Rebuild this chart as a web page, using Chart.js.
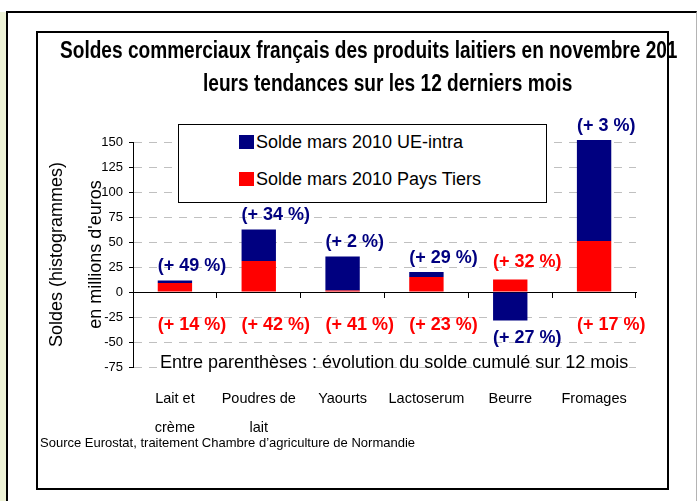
<!DOCTYPE html>
<html lang="fr">
<head>
<meta charset="utf-8">
<title>Soldes commerciaux français des produits laitiers</title>
<script src="https://cdn.jsdelivr.net/npm/chart.js@4.4.1/dist/chart.umd.min.js"></script>
<style>
  html, body { margin: 0; padding: 0; background: #fff; }
  #stage { position: relative; width: 697px; height: 501px; overflow: hidden; font-family: 'Liberation Sans', Arial, sans-serif; color: #000; }
  #stage > * { position: absolute; }
  .strip { left: 0; top: 12px; width: 6px; height: 489px; background: #eef3d6; }
  .outer { left: 6px; top: 11px; width: 691px; height: 500px; box-sizing: border-box; border-left: 2px solid #000; border-top: 2px solid #000; border-right: 1px solid #b4b4b4; }
  .inner { left: 36px; top: 31px; width: 633px; height: 459px; box-sizing: border-box; border: 2px solid #000; z-index: 5; }
  #chart { left: 0; top: 0; }
  .titre { white-space: nowrap; font-weight: bold; font-size: 23px; line-height: 26px; transform: scaleX(0.83); transform-origin: left center; z-index: 2; }
  .t1 { left: 60px; top: 37px; }
  .t2 { left: 203px; top: 70px; }
  #legende { left: 178px; top: 124px; width: 369px; height: 79px; box-sizing: border-box; border: 1px solid #000; background: #fff; z-index: 2; }
  .item { position: absolute; left: 60px; white-space: nowrap; font-size: 18px; line-height: 20px; }
  .item span { display: inline-block; width: 15px; height: 14px; margin-right: 2px; vertical-align: -1px; }
  .note { left: 160px; top: 351px; white-space: nowrap; font-size: 18px; line-height: 22px; z-index: 2; }
  .source { left: 40px; top: 435px; white-space: nowrap; font-size: 13px; line-height: 16px; z-index: 2; }
</style>
</head>
<body>
<div id="stage">
  <div class="strip"></div>
  <div class="outer"></div>
  <canvas id="chart" width="697" height="501"></canvas>
  <div class="titre t1">Soldes commerciaux français des produits laitiers en novembre 201</div>
  <div class="titre t2">leurs tendances sur les 12 derniers mois</div>
  <div id="legende"></div>
  <div class="note">Entre parenthèses : évolution du solde cumulé sur 12 mois</div>
  <div class="source">Source Eurostat, traitement Chambre d’agriculture de Normandie</div>
  <div class="inner"></div>
</div>
<script>
// Données (millions d'euros)
const categories = [['Lait et', 'crème'], ['Poudres de', 'lait'], 'Yaourts', 'Lactoserum', 'Beurre', 'Fromages'];
const soldeUeIntra = [2.5, 31.5, 34, 5, -28.5, 101];
const soldePaysTiers = [9, 31, 1.5, 15, 12.5, 51];
// Evolution du solde cumulé sur 12 mois (%)
const evolUeIntra = [49, 34, 2, 29, 27, 3];
const evolPaysTiers = [14, 42, 41, 23, 32, 17];
const yMin = -75;
const yMax = 150;
const yStep = 25;

const bleu = '#000080';
const rouge = '#ff0000';

document.addEventListener('DOMContentLoaded', function () {
    Chart.defaults.font.family = "'Liberation Sans', Arial, sans-serif";
    Chart.defaults.color = '#000';

    // étiquettes "(+ xx %)" au-dessus / en dessous des barres
    const etiquettesPlugin = {
        id: 'etiquettes',
        afterDatasetsDraw(chart) {
            const ctx = chart.ctx;
            const metaTiers = chart.getDatasetMeta(0);
            const metaUe = chart.getDatasetMeta(1);
            const zeroY = chart.scales.y.getPixelForValue(0);
            ctx.save();
            ctx.font = "bold 18px 'Liberation Sans', Arial, sans-serif";
            ctx.textAlign = 'left';
            ctx.textBaseline = 'middle';
            categories.forEach(function (cat, i) {
                const barUe = metaUe.data[i];
                const barTiers = metaTiers.data[i];
                const gauche = barUe.x - barUe.width / 2;
                let yUe, yTiers;
                if (soldeUeIntra[i] >= 0) {
                    yUe = barUe.y - 14;
                    yTiers = zeroY + 33;
                } else {
                    yUe = barUe.y + 18;
                    yTiers = barTiers.y - 17;
                }
                ctx.fillStyle = bleu;
                ctx.fillText('(+ ' + evolUeIntra[i] + ' %)', gauche, yUe);
                ctx.fillStyle = rouge;
                ctx.fillText('(+ ' + evolPaysTiers[i] + ' %)', gauche, yTiers);
            });
            ctx.restore();
        }
    };

    const ctx = document.getElementById('chart').getContext('2d');
    const myChart = new Chart(ctx, {
        type: 'bar',
        data: {
            labels: categories,
            datasets: [
                {
                    label: 'Solde mars 2010 Pays Tiers',
                    data: soldePaysTiers,
                    backgroundColor: rouge,
                    categoryPercentage: 0.41,
                    barPercentage: 1,
                    clip: false,
                },
                {
                    label: 'Solde mars 2010 UE-intra',
                    data: soldeUeIntra,
                    backgroundColor: bleu,
                    categoryPercentage: 0.41,
                    barPercentage: 1,
                    clip: false,
                },
            ],
        },
        options: {
            responsive: false,
            animation: false,
            layout: { padding: { left: 38, top: 142, right: 61, bottom: 54 } },
            plugins: {
                legend: { display: false },
                title: { display: false },
                tooltip: { enabled: false },
            },
            scales: {
                x: {
                    stacked: true,
                    offset: true,
                    grid: { display: false, drawTicks: false, offset: true },
                    border: { display: false },
                    ticks: {
                        autoSkip: false,
                        maxRotation: 0,
                        padding: 17,
                        font: { size: 14.5, lineHeight: 2.03 },
                    },
                    afterFit: function (scale) { scale.height = 80; },
                },
                // axe horizontal au niveau du zéro
                xZero: {
                    type: 'category',
                    position: { y: 0 },
                    offset: true,
                    grid: { drawOnChartArea: false, offset: true, tickLength: 5, color: '#000' },
                    border: { color: '#000', width: 1 },
                    ticks: { display: false },
                },
                y: {
                    stacked: true,
                    min: yMin,
                    max: yMax,
                    ticks: {
                        stepSize: yStep,
                        padding: 6,
                        font: { size: 13, family: "'Liberation Sans Narrow', 'Liberation Sans', Arial, sans-serif" },
                    },
                    grid: {
                        color: function (c) { return c.tick && c.tick.value === 0 ? 'rgba(0,0,0,0)' : '#c0c0c0'; },
                        tickColor: '#000',
                        tickLength: 4,
                    },
                    border: { color: '#000', width: 1, dash: [8, 7] },
                    title: {
                        display: true,
                        text: ['Soldes (histogrammes)', "en millions d'euros"],
                        font: { size: 18, lineHeight: 2.15 },
                        padding: { top: 0, bottom: 0 },
                    },
                    afterFit: function (scale) { scale.width = 95; },
                },
            },
        },
        plugins: [etiquettesPlugin],
    });

    // légende construite à partir des séries (UE-intra d'abord)
    const legende = document.getElementById('legende');
    myChart.data.datasets.slice().reverse().forEach(function (ds, i) {
        const item = document.createElement('div');
        item.className = 'item';
        item.style.top = (7 + i * 37) + 'px';
        item.innerHTML = '<span style="background:' + ds.backgroundColor + '"></span>' + ds.label;
        legende.appendChild(item);
    });
});
</script>
</body>
</html>
